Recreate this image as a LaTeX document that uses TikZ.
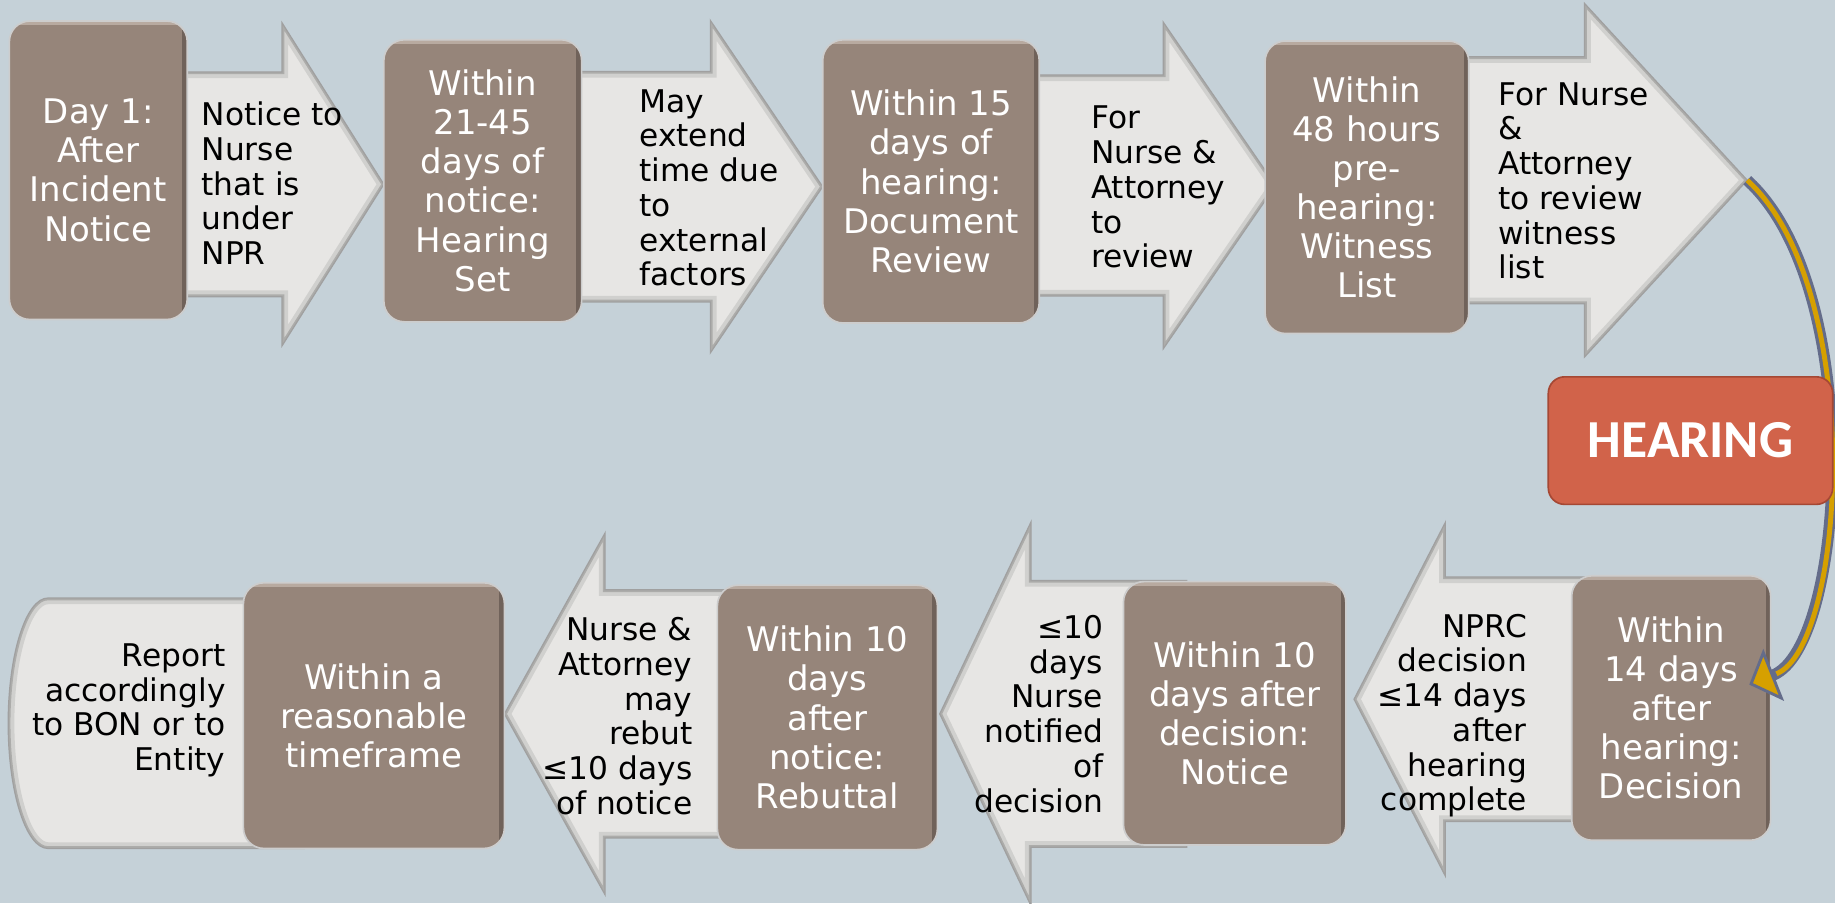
\documentclass[tikz,border=0pt]{standalone}
\usepackage{fontspec}
\setmainfont{DejaVu Sans}
\newfontfamily\hearingfont{Carlito}
\usetikzlibrary{arrows.meta}
\definecolor{slidebg}{RGB}{197,209,216}
\definecolor{boxbrown}{RGB}{150,133,122}
\definecolor{boxdark}{RGB}{112,98,90}
\definecolor{boxlight}{RGB}{184,170,160}
\definecolor{boxedge}{RGB}{205,205,205}
\definecolor{arrowgray}{RGB}{231,230,228}
\definecolor{arrowrim}{RGB}{208,208,206}
\definecolor{arrowrimdark}{RGB}{172,172,170}
\definecolor{arrowedge}{RGB}{160,160,160}
\definecolor{hearingred}{RGB}{209,99,74}
\definecolor{hearingedge}{RGB}{165,72,52}
\definecolor{curvegold}{RGB}{214,160,0}
\definecolor{curveslate}{RGB}{100,108,138}
\newcommand{\bevelfill}[1]{\begin{scope}\clip #1; \fill[arrowgray] #1; \draw[arrowrim, line width=6pt] #1; \draw[arrowrimdark, line width=2.2pt] #1; \end{scope}\draw[arrowedge, line width=0.6pt] #1;}
\newcommand{\stagearrow}[6]{\bevelfill{(#1,#4+#5) -- (#2,#4+#5) -- (#2,#4+#6) -- (#3,#4) -- (#2,#4-#6) -- (#2,#4-#5) -- (#1,#4-#5) -- cycle}}

\begin{document}
\begin{tikzpicture}[stepbox/.style={draw=boxedge, line width=0.8pt, fill=boxbrown, rounded corners=0.35cm, text=white, align=center, inner sep=0pt, font=\fontsize{16.5}{19}\selectfont,
  path picture={\draw[boxdark, line width=5pt] (path picture bounding box.north east) -- (path picture bounding box.south east);
   \draw[boxlight, line width=4pt] (path picture bounding box.north west) -- (path picture bounding box.north east);}},
 arrowtext/.style={inner sep=0pt, font=\fontsize{15.2}{16.9}\selectfont}]
 \fill[slidebg] (0,0) rectangle (31.36,15.44);
 \useasboundingbox (0,0) rectangle (31.36,15.44);
 \stagearrow{3.0}{4.82}{6.56}{12.29}{1.92}{2.76}
 \stagearrow{9.6}{12.14}{14.06}{12.25}{1.97}{2.84}
 \stagearrow{17.6}{19.88}{21.8}{12.27}{1.89}{2.79}
 \stagearrow{25.0}{27.08}{29.86}{12.36}{2.11}{3.02}
 \stagearrow{27.2}{24.7}{23.14}{3.49}{2.09}{3.02}
 \stagearrow{20.28}{17.62}{16.06}{3.24}{2.28}{3.28}
 \stagearrow{12.5}{10.34}{8.62}{3.24}{2.12}{3.09}
 \bevelfill{(5.2,5.22) -- (0.82,5.22) arc[start angle=90, end angle=270, x radius=0.68, y radius=2.14] -- (5.2,0.94) -- cycle}
 \coordinate (witnesstip) at (29.86,12.36);

 \node[stepbox, minimum width=3.04cm, minimum height=5.1cm] (day1) at (1.68,12.53) {Day 1:\\After\\Incident\\Notice};
 \node[stepbox, minimum width=3.38cm, minimum height=4.82cm] (hearingset) at (8.25,12.35) {Within\\21-45\\days of\\notice:\\Hearing\\Set};
 \node[stepbox, minimum width=3.7cm, minimum height=4.84cm] (docreview) at (15.91,12.34) {Within 15\\days of\\hearing:\\Document\\Review};
 \node[stepbox, minimum width=3.48cm, minimum height=5.0cm] (witness) at (23.36,12.24) {Within\\48 hours\\pre-\\hearing:\\Witness\\List};
 \node[stepbox, minimum width=3.4cm, minimum height=4.52cm] (decision) at (28.56,3.34) {Within\\14 days\\after\\hearing:\\Decision};
 \node[stepbox, minimum width=3.8cm, minimum height=4.5cm] (notice) at (21.1,3.25) {Within 10\\days after\\decision:\\Notice};
 \node[stepbox, minimum width=3.76cm, minimum height=4.52cm] (rebuttal) at (14.14,3.18) {Within 10\\days\\after\\notice:\\Rebuttal};
 \node[stepbox, minimum width=4.46cm, minimum height=4.54cm] (timeframe) at (6.39,3.21) {Within a\\reasonable\\timeframe};

 \node[arrowtext, anchor=west, align=left] (noticetext) at (3.44,12.31) {Notice to\\Nurse\\that is\\under\\NPR};
 \node[arrowtext, anchor=west, align=left] (extendtext) at (10.92,12.23) {May\\extend\\time due\\to\\external\\factors};
 \node[arrowtext, anchor=west, align=left] (reviewtext) at (18.64,12.24) {For\\Nurse \&\\Attorney\\to\\review};
 \node[arrowtext, anchor=west, align=left] (listtext) at (25.6,12.35) {For Nurse\\\&\\Attorney\\to review\\witness\\list};
 \node[arrowtext, anchor=east, align=right] (nprctext) at (26.1,3.21) {NPRC\\decision\\≤14 days\\after\\hearing\\complete};
 \node[arrowtext, anchor=east, align=right] (notifiedtext) at (18.86,3.24) {≤10\\days\\Nurse\\notified\\of\\decision};
 \node[arrowtext, anchor=east, align=right] (rebuttext) at (11.84,3.2) {Nurse \&\\Attorney\\may\\rebut\\≤10 days\\of notice};
 \node[arrowtext, anchor=east, align=right] (reporttext) at (3.86,3.3) {Report\\accordingly\\to BON or to\\Entity};

 \draw[curveslate, line width=5.5pt, -{Triangle[length=0.45cm, width=0.95cm, fill=curvegold, line width=1.4pt]}] (witnesstip) .. controls (31.9,10.5) and (31.55,4.4) .. ([xshift=-0.38cm, yshift=0.4cm]decision.east);
 \draw[curvegold, line width=2.4pt, shorten >=0.5cm] (witnesstip) .. controls (31.9,10.5) and (31.55,4.4) .. ([xshift=-0.38cm, yshift=0.4cm]decision.east);
 \node[draw=hearingedge, line width=0.8pt, fill=hearingred, rounded corners=0.28cm, minimum width=4.86cm, minimum height=2.18cm, text=white, font=\hearingfont\bfseries\fontsize{26}{30}\selectfont] (hearing) at (28.89,7.91) {HEARING};
\end{tikzpicture}
\end{document}
